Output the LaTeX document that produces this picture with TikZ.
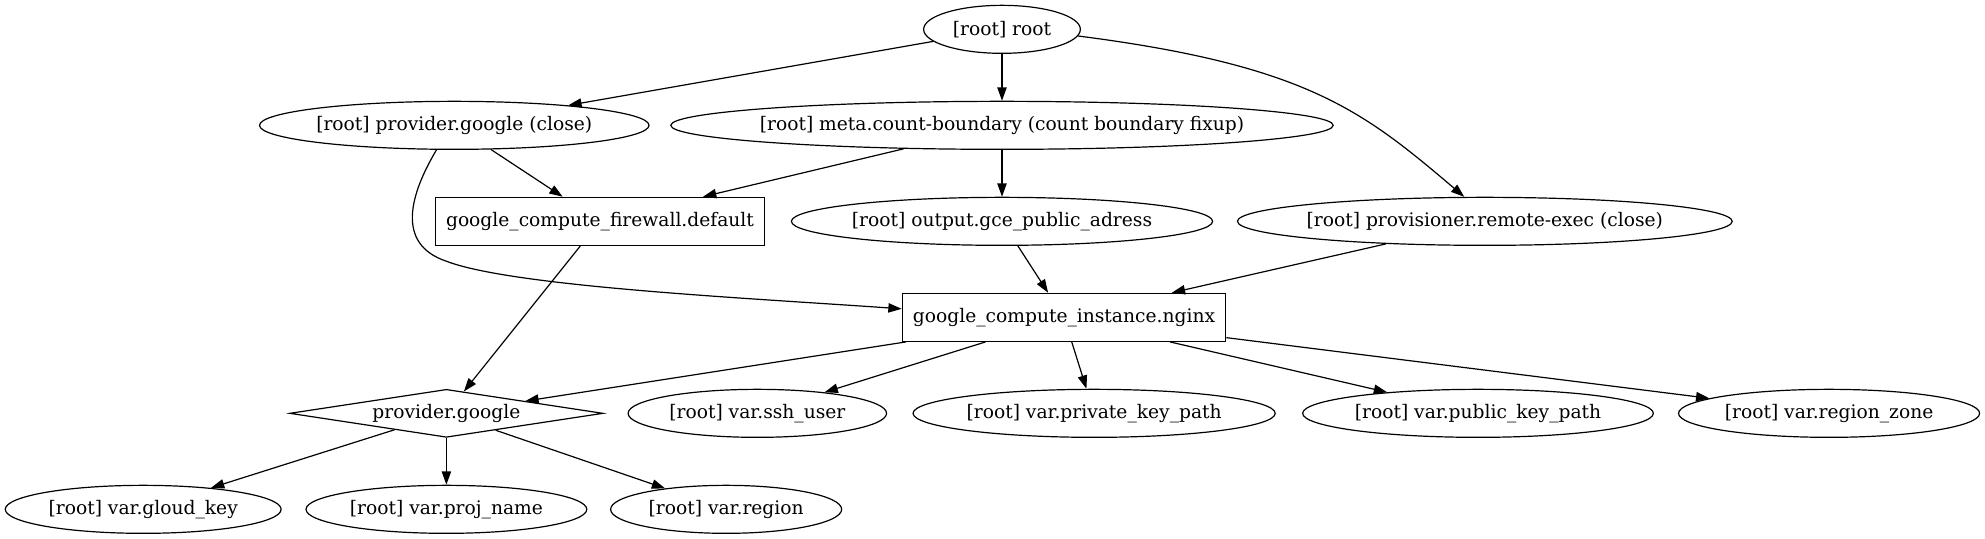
\documentclass[tikz,border=0pt]{standalone}
\usepackage{fontspec}
\setmainfont{DejaVu Serif}
\usetikzlibrary{arrows.meta,shapes.geometric}
\newlength\gvw
\newcommand\gvfont{\fontsize{14pt}{16.8pt}\selectfont}
% measure label widths outside the picture: (label width + 16pt) * factor
\newcommand\gvmeasure[3]{%
  \settowidth\gvw{\gvfont #3}%
  \pgfmathsetlengthmacro\gvtmp{(\gvw+16pt)*#2}%
  \expandafter\xdef\csname gvw#1\endcsname{\gvtmp}}
\newcommand\gvell[4]{%
  \node[gvellipse, minimum width=\csname gvw#1\endcsname] (#1) at (#2,#3) {\makebox[0pt]{#4}};}
\newcommand\gvdia[4]{%
  \node[gvdiamond, minimum width=\csname gvw#1\endcsname] (#1) at (#2,#3) {\makebox[0pt]{#4}};}
\tikzset{
  gvbase/.style={draw, line width=0.9pt, font=\gvfont, text=black},
  gvellipse/.style={gvbase, ellipse, inner sep=0pt, minimum height=36pt},
  gvdiamond/.style={gvbase, diamond, inner sep=0pt, minimum height=36pt},
  gvrect/.style={gvbase, rectangle, inner xsep=8pt, inner ysep=0pt, minimum height=36pt},
  gvedge/.style={line width=0.9pt, -{Triangle[length=10pt,width=7pt]}},
}
\begin{document}
\gvmeasure{root}{1.31}{[root] root}%
\gvmeasure{pgclose}{1.31}{[root] provider.google (close)}%
\gvmeasure{meta}{1.31}{[root] meta.count-boundary (count boundary fixup)}%
\gvmeasure{out}{1.31}{[root] output.gce\_public\_adress}%
\gvmeasure{prov}{1.31}{[root] provisioner.remote-exec (close)}%
\gvmeasure{pg}{1.8526}{provider.google}%
\gvmeasure{ssh}{1.31}{[root] var.ssh\_user}%
\gvmeasure{priv}{1.31}{[root] var.private\_key\_path}%
\gvmeasure{pub}{1.31}{[root] var.public\_key\_path}%
\gvmeasure{zone}{1.31}{[root] var.region\_zone}%
\gvmeasure{gkey}{1.31}{[root] var.gloud\_key}%
\gvmeasure{proj}{1.31}{[root] var.proj\_name}%
\gvmeasure{reg}{1.31}{[root] var.region}%
\begin{tikzpicture}[x=1pt,y=-1pt]
\path[fill=white] (0,0) rectangle (1488.75,404.25);
\useasboundingbox (0,0) rectangle (1488.75,404.25);
\gvell{root}{751.5}{22}{[root] root}
\gvell{pgclose}{340.7}{94}{[root] provider.google (close)}
\gvell{meta}{751.5}{94}{[root] meta.count-boundary (count boundary fixup)}
\node[gvrect] (fw) at (450,166) {google\_compute\_firewall.default};
\gvell{out}{751.5}{166}{[root] output.gce\_public\_adress}
\gvell{prov}{1113.6}{166}{[root] provisioner.remote-exec (close)}
\node[gvrect] (inst) at (798,238) {google\_compute\_instance.nginx};
\gvdia{pg}{334.8}{310}{provider.google}
\gvell{ssh}{568}{310}{[root] var.ssh\_user}
\gvell{priv}{820.6}{310}{[root] var.private\_key\_path}
\gvell{pub}{1108.5}{310}{[root] var.public\_key\_path}
\gvell{zone}{1371.8}{310}{[root] var.region\_zone}
\gvell{gkey}{107.4}{382}{[root] var.gloud\_key}
\gvell{proj}{334.8}{382}{[root] var.proj\_name}
\gvell{reg}{544.6}{382}{[root] var.region}
\coordinate (bend) at (335,196);
\draw[gvedge] (root) -- (pgclose);
\draw[gvedge] (root) -- (meta);
\draw[gvedge] (root.-5) .. controls (980,49) and (1022,83) .. (prov.130);
\draw[gvedge] (pgclose) -- (fw);
\draw[gvedge] (pgclose.-126) .. controls (308,145) and (296,183) .. (bend) .. controls (385,215) and (560,223.5) .. (inst.177);
\draw[gvedge] (meta) -- (fw);
\draw[gvedge] (meta) -- (out);
\draw[gvedge] (fw) -- (pg);
\draw[gvedge] (out) -- (inst);
\draw[gvedge] (prov) -- (inst);
\draw[gvedge] (inst) -- (pg);
\draw[gvedge] (inst) -- (ssh);
\draw[gvedge] (inst) -- (priv);
\draw[gvedge] (inst) -- (pub);
\draw[gvedge] (inst) -- (zone);
\draw[gvedge] (pg) -- (gkey);
\draw[gvedge] (pg) -- (proj);
\draw[gvedge] (pg) -- (reg);
\end{tikzpicture}
\end{document}
